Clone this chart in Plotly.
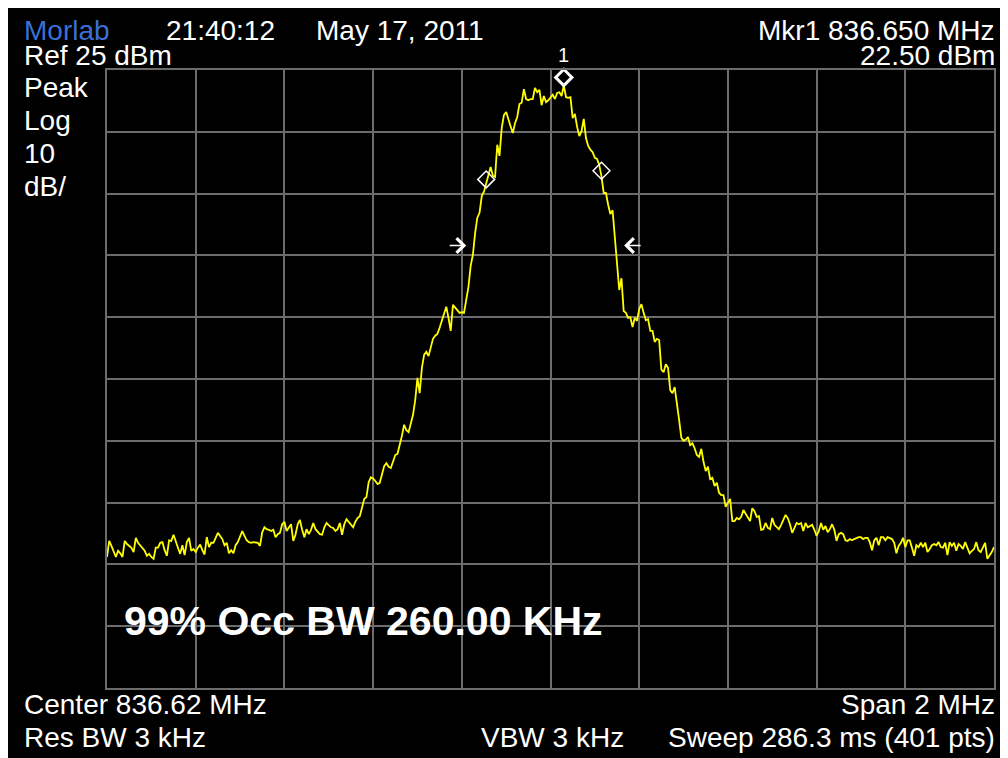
import numpy as np
import plotly.graph_objects as go

# ---------------- data ----------------
center_mhz = 836.62
span_mhz = 2.0
n_pts = 401
ref_dbm = 25.0
db_per_div = 10.0
n_div = 10

levels_dbm = [
    # 835.62 .. 835.82
    -53.8, -51.2, -52.0, -53.0, -53.8, -52.8, -53.2, -53.8, -51.2, -51.7,
    -52.0, -52.3, -53.0, -50.7, -51.5, -52.0, -52.3, -52.8, -53.6, -53.3,
    -53.8, -54.1, -52.3, -52.3, -51.5, -51.4, -52.7, -53.6, -51.1, -51.2,
    -50.2, -51.1, -52.3, -53.3, -51.9, -53.5, -51.4, -50.7, -52.8, -52.5,
    -53.0,
    # .. 836.02
    -52.3, -51.8, -52.7, -53.4, -50.6, -52.2, -51.5, -51.5, -50.7, -49.9,
    -50.4, -50.9, -51.9, -51.5, -53.2, -52.7, -53.2, -51.9, -51.4, -50.6,
    -49.6, -50.4, -51.1, -51.4, -51.5, -51.4, -51.4, -51.5, -52.0, -49.8,
    -49.0, -49.3, -49.4, -49.6, -49.4, -50.6, -50.1, -49.9, -48.5, -48.1,
    # .. 836.22
    -49.6, -49.0, -48.5, -51.2, -50.2, -48.5, -47.8, -49.4, -50.6, -49.3,
    -50.1, -49.4, -48.3, -49.3, -49.8, -50.1, -50.2, -49.0, -48.3, -48.6,
    -49.0, -49.1, -49.6, -49.3, -48.3, -50.2, -48.5, -47.7, -48.1, -48.6,
    -49.0, -48.1, -47.5, -47.2, -45.7, -44.4, -44.1, -41.7, -40.9, -41.1,
    # .. 836.42
    -41.5, -42.0, -41.8, -40.2, -39.1, -38.6, -39.2, -39.4, -38.4, -37.3,
    -37.1, -35.8, -34.2, -32.4, -33.3, -33.6, -32.1, -30.8, -28.4, -24.8,
    -27.3, -23.2, -21.1, -20.6, -21.3, -20.0, -18.5, -18.0, -17.7, -16.7,
    -15.5, -14.2, -13.3, -15.1, -17.2, -13.0, -13.5, -14.0, -14.3, -14.2,
    # .. 836.62
    -14.3, -12.2, -10.1, -6.7, -4.9, -1.4, 1.1, 1.9, 4.6, 5.3,
    6.6, 7.7, 9.3, 7.9, 7.7, 12.9, 11.1, 15.6, 17.7, 18.2,
    16.9, 15.9, 14.8, 16.4, 17.4, 19.5, 19.7, 21.9, 20.3, 20.1,
    20.3, 20.3, 22.1, 21.4, 21.8, 19.3, 20.8, 19.8, 20.1, 20.5,
    # .. 836.82
    21.0, 20.3, 21.3, 21.4, 20.8, 22.5, 20.6, 20.5, 20.6, 17.2,
    17.9, 15.8, 14.3, 15.1, 17.1, 14.0, 12.7, 12.1, 11.7, 10.8,
    10.6, 9.6, 7.8, 5.1, 5.1, 3.2, 1.7, 2.3, -1.7, -6.6,
    -10.6, -8.7, -14.0, -14.3, -15.1, -15.0, -16.6, -15.1, -15.6, -13.7,
    # .. 837.02
    -12.9, -14.3, -15.5, -15.3, -17.2, -17.2, -19.0, -18.5, -18.7, -23.5,
    -23.9, -22.6, -23.2, -26.8, -27.3, -26.3, -28.7, -31.6, -34.5, -35.0,
    -34.8, -34.4, -35.7, -35.4, -36.2, -37.3, -37.6, -36.3, -38.4, -39.9,
    -39.2, -41.2, -41.0, -42.3, -41.8, -43.4, -43.8, -43.8, -45.7, -45.1,
    # .. 837.22
    -44.4, -48.0, -48.0, -47.5, -47.7, -47.3, -46.2, -46.8, -47.5, -48.0,
    -45.9, -46.4, -47.3, -47.2, -49.4, -49.3, -48.3, -49.1, -49.3, -47.5,
    -48.6, -49.0, -49.3, -48.6, -47.7, -47.0, -47.5, -48.5, -49.9, -49.1,
    -48.3, -48.5, -48.3, -49.6, -48.3, -49.0, -48.8, -48.6, -49.4, -50.4,
    # .. 837.42
    -49.6, -48.3, -49.4, -48.8, -49.8, -49.3, -48.5, -49.4, -51.2, -50.1,
    -49.9, -50.1, -51.1, -51.2, -50.9, -51.1, -50.9, -50.7, -50.6, -50.6,
    -50.9, -50.7, -50.7, -51.4, -52.7, -51.1, -50.7, -51.9, -50.6, -50.6,
    -51.1, -50.6, -50.7, -50.9, -51.5, -53.2, -52.0, -51.5, -50.7, -52.2,
    # .. 837.62
    -51.1, -51.1, -52.3, -53.6, -51.9, -52.2, -51.5, -52.2, -51.5, -53.0,
    -52.5, -51.9, -51.7, -51.9, -51.4, -52.2, -52.3, -51.5, -53.5, -51.4,
    -52.0, -51.5, -52.8, -51.7, -52.0, -52.5, -51.4, -52.3, -53.2, -52.8,
    -52.5, -51.4, -52.7, -53.0, -52.3, -51.5, -54.1, -53.6, -53.0, -52.2,
]

mkr1_freq = 836.650
mkr1_level = 22.50
mkr1_symbol_lift_db = 1.3          # diamond drawn just above the peak
obw_edge_freqs = [836.475, 836.735]
obw_edge_levels = [7.3, 8.7]
xdb_arrow_freqs = [836.430, 836.786]
xdb_arrow_level = -3.4

header_left = ["Morlab", "21:40:12", "May 17, 2011"]
header_right = ["Mkr1 836.650 MHz", "22.50 dBm"]
side_labels = ["Ref 25 dBm", "Peak", "Log", "10", "dB/"]
footer_left = ["Center 836.62 MHz", "Res BW 3 kHz"]
footer_mid = "VBW 3 kHz"
footer_right = ["Span 2 MHz", "Sweep 286.3 ms (401 pts)"]
obw_text = "99% Occ BW 260.00 KHz"

# ---------------- figure ----------------
# the page keeps its default 8 px body margin, so the figure starts at (8, 8)
OFF = 8
W, H = 1000, 750
ML, MR, MT, MB = 99, 14, 62, 70
PW, PH = W - ML - MR, H - MT - MB

def px_x(px):          # screen px -> paper x
    return (px - OFF - ML) / PW

def px_y(py):          # screen px -> paper y
    return (H - MB - (py - OFF)) / PH

FONT = "Liberation Sans, Arial, Helvetica, sans-serif"
GRID = "#6c6c6c"

f_start = center_mhz - span_mhz / 2
f_stop = center_mhz + span_mhz / 2
freqs = np.linspace(f_start, f_stop, n_pts)
y_top = ref_dbm
y_bot = ref_dbm - db_per_div * n_div

fig = go.Figure()
fig.add_trace(go.Scatter(
    x=freqs, y=levels_dbm, mode="lines",
    line=dict(color="#ffff00", width=1.8), hoverinfo="skip"))
fig.add_trace(go.Scatter(
    x=obw_edge_freqs, y=obw_edge_levels, mode="markers",
    marker=dict(symbol="diamond-open", size=13, color="white",
                line=dict(color="white", width=1.5)),
    hoverinfo="skip", cliponaxis=False))
fig.add_trace(go.Scatter(
    x=[mkr1_freq], y=[mkr1_level + mkr1_symbol_lift_db], mode="markers",
    marker=dict(symbol="diamond-open", size=12.5, color="white",
                line=dict(color="white", width=3)),
    hoverinfo="skip", cliponaxis=False))

ann = []
def txt(text, px, py_base, anchor="left", size=28, color="white", bold=False):
    center = py_base - 0.3465 * size
    ann.append(dict(
        text=("<b>%s</b>" % text) if bold else text,
        xref="paper", yref="paper", x=px_x(px), y=px_y(center),
        xanchor=anchor, yanchor="middle", showarrow=False,
        borderpad=0, borderwidth=0,
        font=dict(family=FONT, size=size, color=color)))

txt(header_left[0], 24, 40.5, color="#3b6fd8")
txt(header_left[1], 166, 40.5)
txt(header_left[2], 316, 40.5)
txt(header_right[0], 995, 40.5, anchor="right")
txt(header_right[1], 995, 65, anchor="right")
txt(side_labels[0], 24, 65)
for lbl, base in zip(side_labels[1:], [97.5, 130.5, 163.5, 196.5]):
    txt(lbl, 24, base)
txt(footer_left[0], 24, 714.5)
txt(footer_left[1], 24, 747.5)
txt(footer_mid, 481, 747.5)
txt(footer_right[0], 995, 714.5, anchor="right")
txt(footer_right[1], 995, 747.5, anchor="right")
txt(obw_text, 124, 635, size=41, bold=True)

# marker number above the diamond
ann.append(dict(
    text="1", xref="x", yref="paper", x=mkr1_freq, y=px_y(62 - 0.3465 * 20),
    xanchor="center", yanchor="middle", showarrow=False, borderpad=0, borderwidth=0,
    font=dict(family=FONT, size=20, color="white")))

# x dB bandwidth arrows
for f, ax in zip(xdb_arrow_freqs, [-18, 18]):
    ann.append(dict(
        x=f, y=xdb_arrow_level, xref="x", yref="y", text="", showarrow=True,
        ax=ax, ay=0, arrowhead=4, arrowsize=2.2, arrowwidth=1.3,
        arrowcolor="white", standoff=0, startstandoff=0))

axis_common = dict(showgrid=True, gridcolor=GRID, gridwidth=2, zeroline=False,
                   showticklabels=False, ticks="", showline=True, linecolor=GRID,
                   linewidth=2, mirror=True, fixedrange=True)

fig.update_layout(
    width=W, height=H,
    margin=dict(l=ML, r=MR, t=MT, b=MB, pad=0),
    paper_bgcolor="black", plot_bgcolor="black",
    showlegend=False,
    xaxis=dict(range=[f_start, f_stop], tick0=f_start, dtick=span_mhz / n_div, **axis_common),
    yaxis=dict(range=[y_bot, y_top], tick0=y_bot, dtick=db_per_div, **axis_common),
    annotations=ann,
)

fig.write_html("out.html")
